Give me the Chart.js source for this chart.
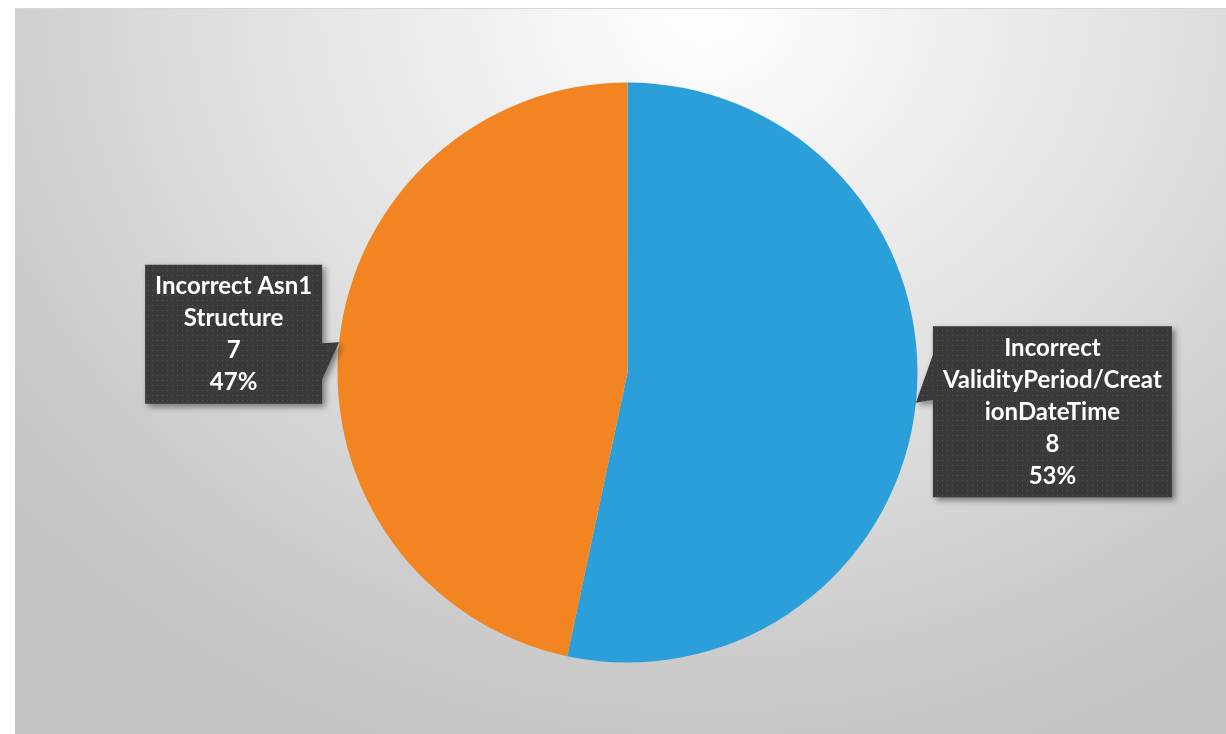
<!DOCTYPE html>
<html>
<head>
<meta charset="utf-8">
<script src="https://cdn.jsdelivr.net/npm/chart.js@4.4.1/dist/chart.umd.min.js"></script>
<style>
  html, body { margin: 0; padding: 0; background: #ffffff; }
  #wrap {
    position: absolute; left: 15px; top: 8px; width: 1211px; height: 726px;
    border-top: 1px solid #d6d6d6; box-sizing: border-box;
    background: radial-gradient(ellipse 75% 110% at 57% 0%, #ffffff 0%, #f3f3f3 20%, #dedede 55%, #c9c9c9 85%, #c3c3c3 100%);
  }
  #myChart { position: absolute; left: 0; top: -1px; }
</style>
</head>
<body>
<div id="wrap"><canvas id="myChart" width="1211" height="726"></canvas></div>
<script>
// chart data
var categories = [
    ['Incorrect', 'ValidityPeriod/Creat', 'ionDateTime'],
    ['Incorrect Asn1', 'Structure']
];
var values = [8, 7];
var colors = ['#2b9fd9', '#f28522'];

function makeDots() {
    let tile = document.createElement('canvas');
    tile.width = 5;
    tile.height = 5;
    let t = tile.getContext('2d');
    t.fillStyle = '#3a3a3a';
    t.fillRect(0, 0, 5, 5);
    t.fillStyle = '#555555';
    t.fillRect(2, 2, 1, 1);
    return tile;
}

// callout boxes like the excel data labels
var calloutLabels = {
    id: 'calloutLabels',
    afterDatasetsDraw(chart) {
        let ctx = chart.ctx;
        let meta = chart.getDatasetMeta(0);
        let total = values.reduce((a, b) => a + b, 0);
        let pattern = ctx.createPattern(makeDots(), 'repeat');
        let lineH = 32;
        ctx.save();
        ctx.font = 'bold 24px Lato';
        meta.data.forEach(function (arc, i) {
            let mid = (arc.startAngle + arc.endAngle) / 2;
            let tipX = arc.x + Math.cos(mid) * arc.outerRadius;
            let tipY = arc.y + Math.sin(mid) * arc.outerRadius;
            let lines = categories[i].concat([String(values[i]), Math.round(values[i] / total * 100) + '%']);
            let w = 0;
            lines.forEach(l => { w = Math.max(w, ctx.measureText(l).width); });
            w = Math.round(w + 20);
            let h = lines.length * lineH + 11;
            let right = Math.cos(mid) > 0;
            let bx, by;
            ctx.beginPath();
            if (right) {
                bx = tipX + 17;
                by = tipY + 9 - h / 2;
                ctx.moveTo(bx, by);
                ctx.lineTo(bx + w, by);
                ctx.lineTo(bx + w, by + h);
                ctx.lineTo(bx, by + h);
                ctx.lineTo(bx, tipY - 3);
                ctx.lineTo(tipX, tipY);
                ctx.lineTo(bx, tipY - 48);
            } else {
                bx = tipX - 17 - w;
                by = tipY - 8 - h / 2;
                ctx.moveTo(bx, by);
                ctx.lineTo(bx + w, by);
                ctx.lineTo(bx + w, tipY + 1);
                ctx.lineTo(tipX, tipY);
                ctx.lineTo(bx + w, tipY + 37);
                ctx.lineTo(bx + w, by + h);
                ctx.lineTo(bx, by + h);
            }
            ctx.closePath();
            ctx.shadowColor = 'rgba(0,0,0,0.45)';
            ctx.shadowBlur = 6;
            ctx.shadowOffsetX = 3;
            ctx.shadowOffsetY = 3;
            ctx.fillStyle = pattern;
            ctx.fill();
            ctx.shadowColor = 'transparent';
            ctx.fillStyle = '#ffffff';
            ctx.textAlign = 'center';
            ctx.textBaseline = 'middle';
            lines.forEach(function (l, k) {
                ctx.fillText(l, bx + w / 2, by + 6 + lineH * k + lineH / 2);
            });
        });
        ctx.restore();
    }
};

new Chart(document.getElementById('myChart'), {
    type: 'pie',
    data: {
        labels: categories,
        datasets: [{
            data: values,
            backgroundColor: colors,
            borderWidth: 0
        }]
    },
    options: {
        responsive: false,
        animation: false,
        radius: 290,
        layout: { padding: { left: 14, top: 3 } },
        plugins: {
            legend: { display: false },
            tooltip: { enabled: false }
        }
    },
    plugins: [calloutLabels]
});
</script>
</body>
</html>
